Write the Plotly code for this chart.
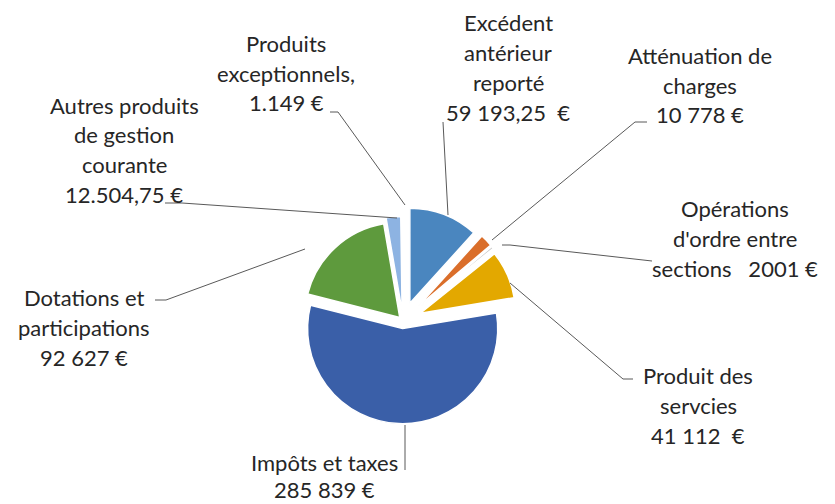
import plotly.graph_objects as go

W, H = 835, 504

# ---- data ----
categories = ["Excédent antérieur reporté", "Atténuation de charges",
              "Opérations d'ordre entre sections", "Produit des servcies",
              "Impôts et taxes", "Dotations et participations",
              "Autres produits de gestion courante", "Produits exceptionnels"]
values = [59193.25, 10778, 2001, 41112, 285839, 92627, 12504.75, 1149]
label_lines = [
    ["Excédent", "antérieur", "reporté", "59 193,25  €"],
    ["Atténuation de", "charges", "10 778 €"],
    ["Opérations", "d'ordre entre", "sections   2001 €"],
    ["Produit des", "servcies", "41 112  €"],
    ["Impôts et taxes", "285 839 €"],
    ["Dotations et", "participations", "92 627 €"],
    ["Autres produits", "de gestion", "courante", "12.504,75 €"],
    ["Produits", "exceptionnels,", "1.149 €"],
]
colors = ["#4A86BF", "#DA6E2A", "#C9C9C9", "#E3A800",
          "#3A5FA8", "#5E9A3D", "#8DB3E2", "#F4C7B8"]
pulls = [0.2, 0.22, 0.22, 0.2, 0.08, 0.05, 0.1, 0.12]

# ---- layout positions (pixels) ----
label_pos = [(508, 23), (700, 55), (735, 208), (698, 375),
             (324, 462), (84, 297), (124, 105), (286, 43)]
line_steps = [30, 30, 30, 30, 27, 30, 30, 30]
leaders = [
    [(443, 122), (448, 215)],
    [(647, 122), (635, 122), (492, 240)],
    [(502, 245), (510, 245), (652, 261)],
    [(510, 283), (623, 379), (633, 379)],
    [(405, 425), (405, 470)],
    [(155, 300), (166, 300), (305, 249)],
    [(165, 203), (182, 203), (397, 218)],
    [(330, 112), (338, 112), (405, 205)],
]

def px(x):
    return x / W

def py(y):
    return 1 - y / H

cx, cy, half = 403, 321, 116

fig = go.Figure(go.Pie(
    labels=categories, values=values, sort=False, direction="clockwise",
    rotation=0, pull=pulls, textinfo="none",
    marker=dict(colors=colors, line=dict(color="white", width=1.5)),
    domain=dict(x=[px(cx - half), px(cx + half)], y=[py(cy + half), py(cy - half)]),
    showlegend=False,
))

shapes = []
for pts in leaders:
    path = "M " + " L ".join(f"{px(x)},{py(y)}" for x, y in pts)
    shapes.append(dict(type="path", xref="paper", yref="paper", path=path,
                       line=dict(color="#595959", width=1)))

annotations = []
for lines, (x, y), step in zip(label_lines, label_pos, line_steps):
    for i, t in enumerate(lines):
        annotations.append(dict(x=px(x), y=py(y + i * step), xref="paper", yref="paper",
                                text=t, showarrow=False, xanchor="center", yanchor="middle",
                                font=dict(family="Lato", size=22, color="#262626")))

fig.update_layout(width=W, height=H, margin=dict(l=0, r=0, t=0, b=0),
                  paper_bgcolor="white", plot_bgcolor="white",
                  shapes=shapes, annotations=annotations)

fig.write_html("out.html", config={"displayModeBar": False},
               post_script="document.body.style.margin='0';")
